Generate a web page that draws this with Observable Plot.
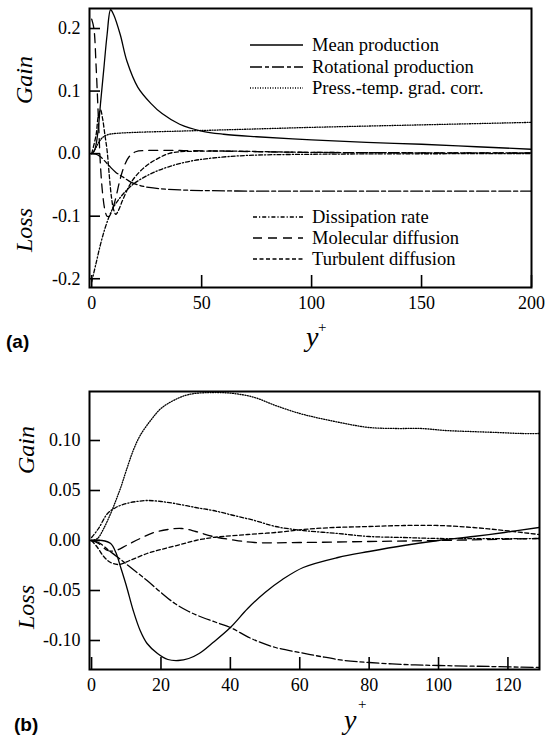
<!DOCTYPE html>
<html><head><meta charset="utf-8">
<script src="https://cdn.jsdelivr.net/npm/d3@7"></script>
<script src="https://cdn.jsdelivr.net/npm/@observablehq/plot@0.6"></script>
<style>
body{margin:0;background:#fff;}
#fig{position:relative;width:555px;height:741px;background:#fff;overflow:hidden}
#fig svg{position:absolute;left:0}
</style></head><body><div id="fig"></div>
<script>
// ---------- data ----------
const seriesNames = ["Mean production","Rotational production","Press.-temp. grad. corr.","Dissipation rate","Molecular diffusion","Turbulent diffusion"];
const seriesKeys = ["mean","rot","press","diss","mol","turb"];

// panel (a)
const aMean = [[0,0],[1,0.003],[2,0.015],[3,0.04],[4,0.08],[5.5,0.135],[7,0.19],[8.6,0.23],[10,0.222],[13,0.19],[16,0.148],[21,0.106],[27,0.08],[32,0.064],[40,0.047],[50,0.036],[60,0.031],[75,0.027],[100,0.022],[125,0.018],[150,0.015],[175,0.011],[200,0.007]];
const aRot = [[0,0],[2,-0.001],[4,-0.005],[6,-0.012],[8.6,-0.022],[11,-0.03],[14.5,-0.038],[18,-0.046],[22,-0.051],[26,-0.054],[31,-0.056],[40,-0.058],[50,-0.059],[75,-0.06],[100,-0.06],[150,-0.06],[200,-0.06]];
const aPress = [[0,0],[1,0.004],[2,0.01],[3,0.017],[4,0.022],[5,0.026],[7,0.03],[10,0.032],[20,0.034],[40,0.036],[60,0.038],[80,0.04],[100,0.042],[150,0.046],[200,0.05]];
const aDiss = [[0,-0.205],[2,-0.175],[4,-0.145],[6,-0.12],[8,-0.1],[10,-0.085],[13,-0.07],[16,-0.058],[20,-0.046],[27,-0.032],[35,-0.021],[45,-0.012],[55,-0.007],[70,-0.003],[100,-0.001],[200,0]];
const aMol = [[0,0.215],[1,0.2],[2,0.14],[3,0.06],[4,-0.02],[5,-0.065],[6,-0.09],[7,-0.1],[8,-0.1],[9,-0.093],[10,-0.083],[11,-0.07],[13,-0.04],[15,-0.018],[17,-0.005],[20,0.003],[25,0.005],[40,0.005],[60,0.004],[100,0.002],[200,0.001]];
const aTurb = [[0,0],[2,0.03],[3,0.06],[4,0.07],[5,0.055],[6,0.03],[7,0.005],[8,-0.035],[9,-0.07],[10,-0.09],[11,-0.097],[12,-0.092],[14,-0.075],[17,-0.052],[20,-0.036],[25,-0.019],[30,-0.008],[36,0.001],[50,0.004],[100,0.002],[200,0.001]];

// panel (b)
const bMean = [[0,0],[3,0],[5.5,-0.003],[7,-0.012],[8.4,-0.027],[10,-0.045],[12,-0.07],[14,-0.09],[16,-0.103],[19,-0.113],[22,-0.119],[25,-0.12],[28,-0.118],[31,-0.113],[35,-0.102],[40,-0.087],[45,-0.068],[50,-0.052],[55,-0.039],[61,-0.027],[71,-0.017],[80,-0.011],[90,-0.005],[100,0],[110,0.004],[119,0.008],[129,0.013]];
const bRot = [[0,0],[2,-0.002],[5,-0.01],[8,-0.018],[12,-0.029],[16,-0.04],[20,-0.052],[24,-0.063],[28,-0.071],[32,-0.077],[36,-0.082],[40,-0.087],[46,-0.098],[53,-0.107],[60,-0.112],[66,-0.116],[73,-0.12],[80,-0.122],[90,-0.124],[100,-0.125],[115,-0.126],[129,-0.127]];
const bPress = [[0,0],[1.7,0.002],[3.5,0.012],[5.5,0.027],[7,0.04],[8.4,0.053],[10,0.07],[12,0.09],[14,0.105],[17,0.12],[20,0.132],[23.6,0.14],[28,0.146],[35,0.148],[41,0.147],[47,0.143],[53,0.135],[60,0.127],[66,0.122],[73,0.117],[80,0.113],[88,0.112],[95,0.112],[102,0.11],[109,0.109],[117,0.108],[124,0.107],[129,0.107]];
const bDiss = [[0,0.003],[2,0.012],[4.6,0.027],[7,0.033],[10,0.037],[13,0.039],[16,0.04],[20,0.039],[24,0.037],[30,0.033],[35,0.03],[41,0.025],[47,0.02],[53,0.014],[61,0.01],[71,0.007],[80,0.004],[90,0.003],[100,0.002],[129,0.002]];
const bMol = [[0,0],[2,-0.003],[4.6,-0.01],[7,-0.01],[10,-0.005],[14,0.002],[18,0.008],[22,0.011],[26,0.012],[30,0.009],[35,0.004],[40,0.001],[47,-0.002],[60,-0.002],[80,-0.001],[100,0],[129,0.002]];
const bTurb = [[0,0],[1.7,-0.007],[3.5,-0.016],[5.5,-0.022],[8,-0.024],[11,-0.02],[16,-0.013],[20,-0.009],[25.6,-0.004],[30,0],[35,0.003],[45,0.006],[53,0.008],[61,0.011],[70,0.013],[80,0.014],[90,0.015],[100,0.015],[110,0.013],[119,0.01],[129,0.006]];

const aXTicks = [0,50,100,150,200];
const aYTicks = [-0.2,-0.1,0.0,0.1,0.2];
const bXTicks = [0,20,40,60,80,100,120];
const bYTicks = [-0.10,-0.05,0.00,0.05,0.10];

// ---------- styles ----------
const dash = {mean:null, rot:"12,3,4,3", press:"1,1.5", diss:"4,2,1.2,2", mol:"9,6", turb:"4,2.5"};
const serif = "'Liberation Serif','Times New Roman',serif";

function panel({top, width, height, mL, mR, mT, mB, xDomain, yDomain, xTicks, yTicks, yFmt, series}) {
  const pw = width - mL - mR, ph = height - mT - mB;
  const svg = Plot.plot({
    width, height, marginLeft:mL, marginRight:mR, marginTop:mT, marginBottom:mB,
    style:{fontFamily:serif, fontSize:"18px", background:"#fff", color:"#000"},
    x:{domain:xDomain, axis:null},
    y:{domain:yDomain, axis:null},
    marks:[
      ...series.map(([k,d]) => Plot.line(d, {x:p=>p[0], y:p=>p[1], stroke:"#000", strokeWidth:1.3, strokeDasharray:dash[k], curve:"catmull-rom", clip:true})),
      Plot.tickY(yTicks, {y:d=>d, insetRight:pw-11, stroke:"#000", strokeWidth:1.6}),
      Plot.tickX(xTicks, {x:d=>d, insetTop:ph-12, stroke:"#000", strokeWidth:1.6}),
      Plot.axisY(yTicks, {anchor:"left", tickSize:0, tickPadding:9, tickFormat:yFmt, fontSize:18}),
      Plot.axisX(xTicks, {anchor:"bottom", tickSize:0, tickPadding:9, tickFormat:d=>String(d), fontSize:18}),
      Plot.frame({stroke:"#000", strokeWidth:2})
    ]
  });
  svg.style.top = top + "px";
  document.getElementById("fig").appendChild(svg);
  return d3.select(svg);
}

function addText(s, x, y, txt, opts={}) {
  const t = s.append("text").attr("x",x).attr("y",y).text(txt)
    .style("font-family", opts.family||serif).style("font-size",(opts.size||18)+"px")
    .style("font-style", opts.italic?"italic":"normal").style("font-weight", opts.bold?"bold":"normal")
    .attr("text-anchor", opts.anchor||"start").attr("dominant-baseline", opts.baseline||"auto").attr("fill","#000");
  if (opts.rotate) t.attr("transform", `rotate(${opts.rotate},${x},${y})`);
  return t;
}

// ---------- panel (a) ----------
const A = panel({top:0, width:555, height:360, mL:89, mR:24, mT:8, mB:73,
  xDomain:[-1,200], yDomain:[-0.214,0.232], xTicks:aXTicks, yTicks:aYTicks, yFmt:d=>d.toFixed(1),
  series:[["mean",aMean],["rot",aRot],["press",aPress],["diss",aDiss],["mol",aMol],["turb",aTurb]]});

addText(A, 32, 80, "Gain", {italic:true, size:24, anchor:"middle", rotate:-90});
addText(A, 32, 230, "Loss", {italic:true, size:24, anchor:"middle", rotate:-90});
addText(A, 306, 346, "y", {italic:true, size:28});
addText(A, 318, 332, "+", {size:15});
addText(A, 6, 348, "(a)", {family:"'Liberation Sans',Arial,sans-serif", bold:true, size:19});

// legend (a)
const legY = [45, 67, 88, 217, 238, 259];
seriesKeys.forEach((k,i) => {
  const y = legY[i];
  const x0 = i < 3 ? 250 : 253;
  A.append("line").attr("x1",x0).attr("x2",303).attr("y1",y).attr("y2",y)
    .attr("stroke","#000").attr("stroke-width",1.3).attr("stroke-dasharray",dash[k]);
  addText(A, 312, y, seriesNames[i], {size:18.5, baseline:"central"});
});

// ---------- panel (b) ----------
const B = panel({top:360, width:555, height:381, mL:89, mR:16, mT:31, mB:72,
  xDomain:[-0.6,129.1], yDomain:[-0.129,0.149], xTicks:bXTicks, yTicks:bYTicks, yFmt:d=>d.toFixed(2),
  series:[["mean",bMean],["rot",bRot],["press",bPress],["diss",bDiss],["mol",bMol],["turb",bTurb]]});

addText(B, 34, 90, "Gain", {italic:true, size:24, anchor:"middle", rotate:-90});
addText(B, 34, 247, "Loss", {italic:true, size:24, anchor:"middle", rotate:-90});
addText(B, 344, 369, "y", {italic:true, size:28});
addText(B, 358, 349, "+", {size:15});
addText(B, 14, 371, "(b)", {family:"'Liberation Sans',Arial,sans-serif", bold:true, size:19});
</script></body></html>
